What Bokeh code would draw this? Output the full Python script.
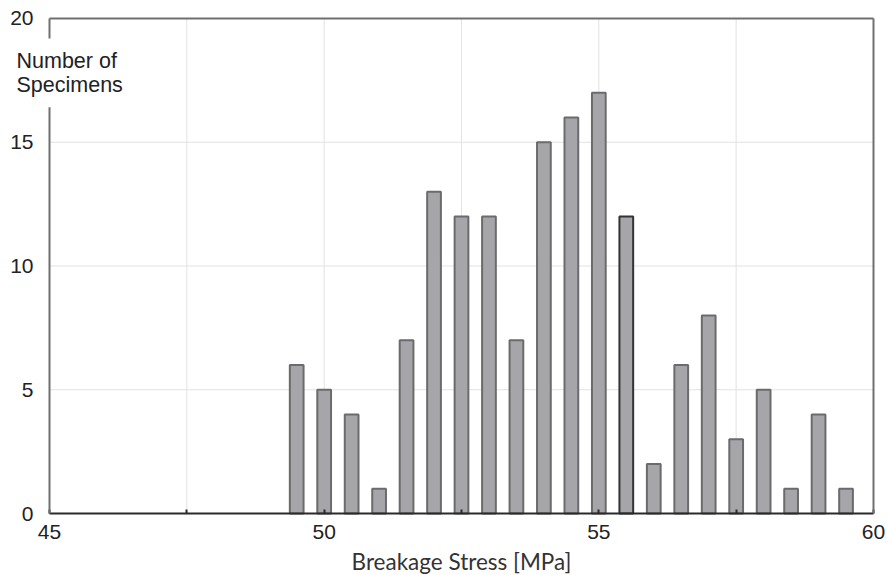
from bokeh.plotting import figure
from bokeh.models import Range1d, FixedTicker, LinearAxis, Label
from bokeh.embed import file_html
from bokeh.resources import INLINE

# Data
stress = [49.5, 50.0, 50.5, 51.0, 51.5, 52.0, 52.5, 53.0, 53.5, 54.0, 54.5,
          55.0, 55.5, 56.0, 56.5, 57.0, 57.5, 58.0, 58.5, 59.0, 59.5]
counts = [6, 5, 4, 1, 7, 13, 12, 12, 7, 15, 16, 17, 12, 2, 6, 8, 3, 5, 1, 4, 1]
outline = ["#6b6b6b"] * len(stress)
outline[12] = "#333333"

x_ticks = [45, 50, 55, 60]
x_minor = [47.5, 52.5, 57.5]
x_grid = [47.5, 50, 52.5, 55, 57.5]
y_ticks = [0, 5, 10, 15, 20]
y_grid = [5, 10, 15]
X_MIN, X_MAX, Y_MIN, Y_MAX = 45, 60, 0, 20
x_title = "Breakage Stress [MPa]"
y_title = "Number of\nSpecimens"

# The frame covers the whole canvas; axes are drawn at fixed data locations
p = figure(width=889, height=575, output_backend="svg", toolbar_location=None,
           x_range=Range1d(44.108, 60.2913), y_range=Range1d(-2.505, 20.727),
           min_border_left=0, min_border_right=0, min_border_top=0, min_border_bottom=0)
p.outline_line_color = None
p.xgrid.visible = False
p.ygrid.visible = False

# grid lines within the axes box
p.segment(x0=X_MIN, x1=X_MAX, y0=y_grid, y1=y_grid, line_color="#e2e2e2",
          line_width=1, level="underlay")
p.segment(x0=x_grid, x1=x_grid, y0=Y_MIN, y1=Y_MAX, line_color="#e2e2e2",
          line_width=1, level="underlay")

p.vbar(x=stress, top=counts, width=0.25, fill_color="#a6a6aa",
       line_color=outline, line_width=2)

tick_font = "Liberation Sans"

# bottom axis
xa = p.xaxis[0]
xa.fixed_location = Y_MIN
xa.bounds = (X_MIN, X_MAX)
xa.ticker = FixedTicker(ticks=x_ticks, minor_ticks=x_minor)
xa.axis_line_color = "#2a2a2a"
xa.axis_line_width = 2
xa.major_tick_in = 4
xa.major_tick_out = 0
xa.minor_tick_in = 4
xa.minor_tick_out = 0
xa.major_tick_line_color = "#2a2a2a"
xa.minor_tick_line_color = "#2a2a2a"
xa.major_tick_line_width = 2
xa.minor_tick_line_width = 2
xa.major_label_text_font = tick_font
xa.major_label_text_font_size = "21px"
xa.major_label_text_color = "#222222"
xa.major_label_standoff = 11

# left axis
ya = p.yaxis[0]
ya.fixed_location = X_MIN
ya.bounds = (Y_MIN, Y_MAX)
ya.ticker = FixedTicker(ticks=y_ticks)
ya.axis_line_color = "#707070"
ya.axis_line_width = 2
ya.major_tick_line_color = None
ya.minor_tick_line_color = None
ya.major_tick_out = 0
ya.major_tick_in = 0
ya.major_label_text_font = tick_font
ya.major_label_text_font_size = "21px"
ya.major_label_text_color = "#222222"
ya.major_label_standoff = 16

# top and right frame lines
top_ax = LinearAxis(ticker=FixedTicker(ticks=[]), bounds=(X_MIN, X_MAX),
                    fixed_location=Y_MAX,
                    axis_line_color="#707070", axis_line_width=2,
                    major_tick_line_color=None, minor_tick_line_color=None,
                    major_tick_out=0, major_tick_in=0)
p.add_layout(top_ax, "above")
right_ax = LinearAxis(ticker=FixedTicker(ticks=[]), bounds=(Y_MIN, Y_MAX),
                      fixed_location=X_MAX,
                      axis_line_color="#707070", axis_line_width=2,
                      major_tick_line_color=None, minor_tick_line_color=None,
                      major_tick_out=0, major_tick_in=0)
p.add_layout(right_ax, "right")

# x axis title, centred under the axes box
xt = Label(x=(X_MIN + X_MAX) / 2, y=-1.374, text=x_title, text_font="Lato",
           text_font_size="22.5px", text_color="#333333",
           text_align="center", text_baseline="top")
p.add_layout(xt)

# y axis title with white background covering the axis line
lab = Label(x=44.2172, y=19.19, text=y_title,
            text_font=tick_font, text_font_size="21.5px", text_color="#222222",
            text_align="left", text_baseline="top", level="overlay",
            background_fill_color="white", padding=10, text_line_height=1.03)
p.add_layout(lab)

open("out.html", "w").write(file_html(p, INLINE))
